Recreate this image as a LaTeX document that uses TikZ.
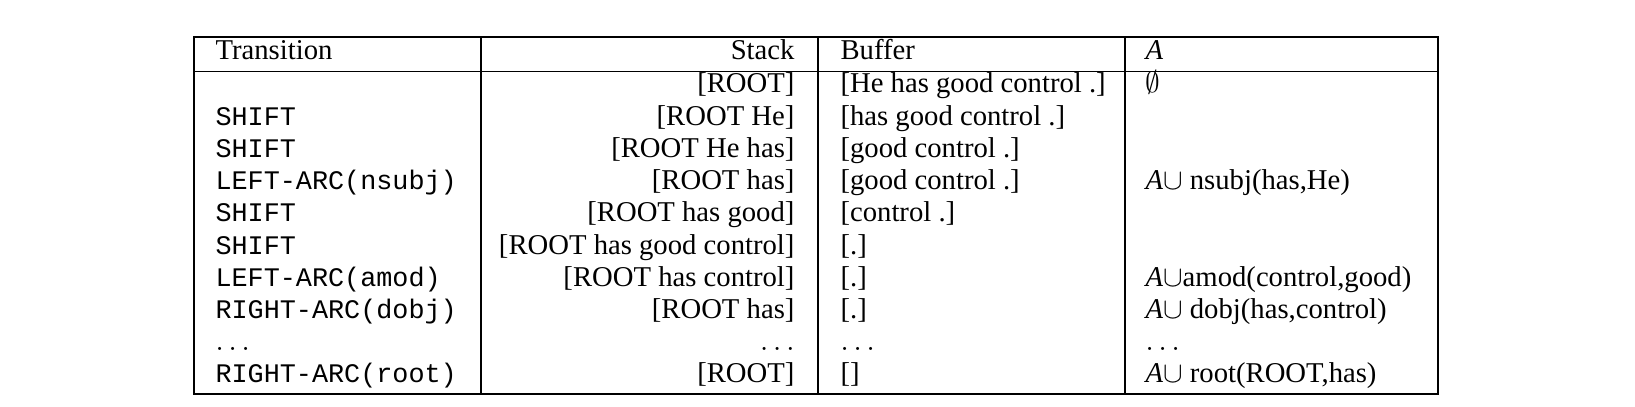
\documentclass[tikz,border=0pt]{standalone}
\usepackage{fontspec}
\setmainfont{Liberation Serif}
\setmonofont{Liberation Mono}
\usepackage{amsmath}
\usepackage{amssymb}
\tikzset{
    rule/.style={draw=black, line width=0.55pt},
    lcell/.style={anchor=base west, inner sep=0pt, font=\fontsize{10.7}{12}\selectfont},
    rcell/.style={anchor=base east, inner sep=0pt, font=\fontsize{10.7}{12}\selectfont},
    tcell/.style={anchor=base west, inner sep=0pt, font=\fontsize{10}{12}\selectfont\ttfamily},
}
\newcommand{\arcset}{\textit{A}$\cup$}
\begin{document}
\begin{tikzpicture}[x=0.3731pt,y=-0.3731pt]
		\useasboundingbox (0,0) rectangle (1635,407);
		% The frame and the rules
		\draw[rule]  (194,37) rectangle (1438,394) ;
		\draw[rule]  (194,71.5) -- (1438,71.5) ;
		\draw[rule]  (481,37) -- (481,394) ;
		\draw[rule]  (818,37) -- (818,394) ;
		\draw[rule]  (1125,37) -- (1125,394) ;
		% Header
		\node[lcell] (htrans) at (215,60) {Transition};
		\node[rcell] (hstack) at (795,60) {Stack};
		\node[lcell] (hbuf) at (840,60) {Buffer};
		\node[lcell] (harcs) at (1145,60) {\textit{A}};
		% Transitions
		\node[tcell] (t1) at (215,125.2) {SHIFT};
		\node[tcell] (t2) at (215,157.4) {SHIFT};
		\node[tcell] (t3) at (215,189.6) {LEFT-ARC(nsubj)};
		\node[tcell] (t4) at (215,221.8) {SHIFT};
		\node[tcell] (t5) at (215,254) {SHIFT};
		\node[tcell] (t6) at (215,286.2) {LEFT-ARC(amod)};
		\node[tcell] (t7) at (215,318.4) {RIGHT-ARC(dobj)};
		\node[lcell] (t8) at (215,350.6) {$\ldots$};
		\node[tcell] (t9) at (215,382.8) {RIGHT-ARC(root)};
		% Stack
		\node[rcell] (s0) at (795,93) {[ROOT]};
		\node[rcell] (s1) at (795,125.2) {[ROOT He]};
		\node[rcell] (s2) at (795,157.4) {[ROOT He has]};
		\node[rcell] (s3) at (795,189.6) {[ROOT has]};
		\node[rcell] (s4) at (795,221.8) {[ROOT has good]};
		\node[rcell] (s5) at (795,254) {[ROOT has good control]};
		\node[rcell] (s6) at (795,286.2) {[ROOT has control]};
		\node[rcell] (s7) at (795,318.4) {[ROOT has]};
		\node[rcell] (s8) at (795,350.6) {$\ldots$};
		\node[rcell] (s9) at (795,382.8) {[ROOT]};
		% Buffer
		\node[lcell] (b0) at (840,93) {[He has good control .]};
		\node[lcell] (b1) at (840,125.2) {[has good control .]};
		\node[lcell] (b2) at (840,157.4) {[good control .]};
		\node[lcell] (b3) at (840,189.6) {[good control .]};
		\node[lcell] (b4) at (840,221.8) {[control .]};
		\node[lcell] (b5) at (840,254) {[.]};
		\node[lcell] (b6) at (840,286.2) {[.]};
		\node[lcell] (b7) at (840,318.4) {[.]};
		\node[lcell] (b8) at (840,350.6) {$\ldots$};
		\node[lcell] (b9) at (840,382.8) {[]};
		% Arcs
		\node[lcell] (a0) at (1145,93) {$\emptyset$};
		\node[lcell] (a3) at (1145,189.6) {\arcset{} nsubj(has,He)};
		\node[lcell] (a6) at (1145,286.2) {\arcset{}amod(control,good)};
		\node[lcell] (a7) at (1145,318.4) {\arcset{} dobj(has,control)};
		\node[lcell] (a8) at (1145,350.6) {$\ldots$};
		\node[lcell] (a9) at (1145,382.8) {\arcset{} root(ROOT,has)};
	\end{tikzpicture}
\end{document}
